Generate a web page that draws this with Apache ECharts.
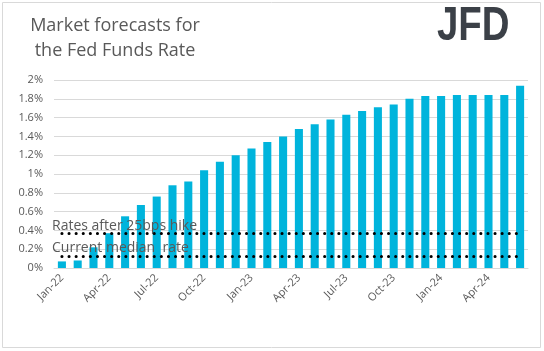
<!DOCTYPE html>
<html>
<head>
<meta charset="utf-8">
<script src="https://cdn.jsdelivr.net/npm/echarts@6/dist/echarts.min.js"></script>
<style>
  html, body { margin: 0; padding: 0; background: #fff; }
  #chart { width: 544px; height: 351px; }
</style>
</head>
<body>
<div id="chart"></div>
<script>
// months shown on the x axis
var months = ['Jan-22', 'Feb-22', 'Mar-22', 'Apr-22', 'May-22', 'Jun-22',
  'Jul-22', 'Aug-22', 'Sep-22', 'Oct-22', 'Nov-22', 'Dec-22',
  'Jan-23', 'Feb-23', 'Mar-23', 'Apr-23', 'May-23', 'Jun-23',
  'Jul-23', 'Aug-23', 'Sep-23', 'Oct-23', 'Nov-23', 'Dec-23',
  'Jan-24', 'Feb-24', 'Mar-24', 'Apr-24', 'May-24', 'Jun-24'];
// market implied fed funds rate, %
var rates = [0.07, 0.08, 0.22, 0.37, 0.55, 0.67,
  0.76, 0.88, 0.92, 1.04, 1.13, 1.2,
  1.27, 1.34, 1.4, 1.48, 1.53, 1.58,
  1.63, 1.67, 1.71, 1.74, 1.8, 1.83,
  1.83, 1.84, 1.84, 1.84, 1.84, 1.94];
var hikeRate = 0.37;     // rates after 25bps hike
var currentRate = 0.12;  // current median rate

var chart = echarts.init(document.getElementById('chart'));
var grey = '#595959';
var dots = {color: '#000', width: 3, type: [0.1, 7], cap: 'round'};

var option = {
  animation: false,
  textStyle: {fontFamily: 'Open Sans'},
  grid: {left: 54, right: 16, top: 80, bottom: 83},
  graphic: [
    {type: 'rect', shape: {x: 2.5, y: 2.5, width: 538, height: 345},
      style: {fill: 'none', stroke: '#d9d9d9', lineWidth: 1}, silent: true},
    {type: 'text', x: 115, y: 17,
      style: {text: 'Market forecasts for', fill: grey, font: '18px "Open Sans"', textAlign: 'center'}},
    {type: 'text', x: 115, y: 42,
      style: {text: 'the Fed Funds Rate', fill: grey, font: '18px "Open Sans"', textAlign: 'center'}},
    {type: 'text', x: 437, y: 27, scaleX: 0.8,
      style: {text: 'JFD', fill: '#3b4047', font: 'bold 48px "Liberation Sans"', textVerticalAlign: 'middle'}},
    {type: 'text', x: 52, y: 219, z: 100,
      style: {text: 'Rates after 25bps hike', fill: grey, font: '14px "Open Sans"'}},
    {type: 'text', x: 52, y: 241, z: 100,
      style: {text: 'Current median  rate', fill: grey, font: '14px "Open Sans"'}}
  ],
  xAxis: {
    type: 'category',
    data: months,
    axisLine: {lineStyle: {color: '#d9d9d9'}},
    axisTick: {interval: 2, lineStyle: {color: '#d9d9d9'}},
    axisLabel: {interval: 2, rotate: 45, color: grey, fontSize: 11, margin: 8}
  },
  yAxis: {
    type: 'value',
    min: 0, max: 2, interval: 0.2,
    axisLine: {show: false},
    axisTick: {show: false},
    splitLine: {lineStyle: {color: '#d9d9d9'}},
    axisLabel: {
      color: grey, fontSize: 11, margin: 11,
      formatter: function (v) { return parseFloat(v.toFixed(1)) + '%'; }
    }
  },
  series: [{
    type: 'bar',
    data: rates,
    barWidth: '51%',
    itemStyle: {color: '#00b4dc'},
    markLine: {
      silent: true,
      symbol: 'none',
      label: {show: false},
      lineStyle: dots,
      data: [
        [{coord: [0, hikeRate]}, {coord: [months.length - 1, hikeRate]}],
        [{coord: [0, currentRate]}, {coord: [months.length - 1, currentRate]}]
      ]
    }
  }]
};
chart.setOption(option);
</script>
</body>
</html>
